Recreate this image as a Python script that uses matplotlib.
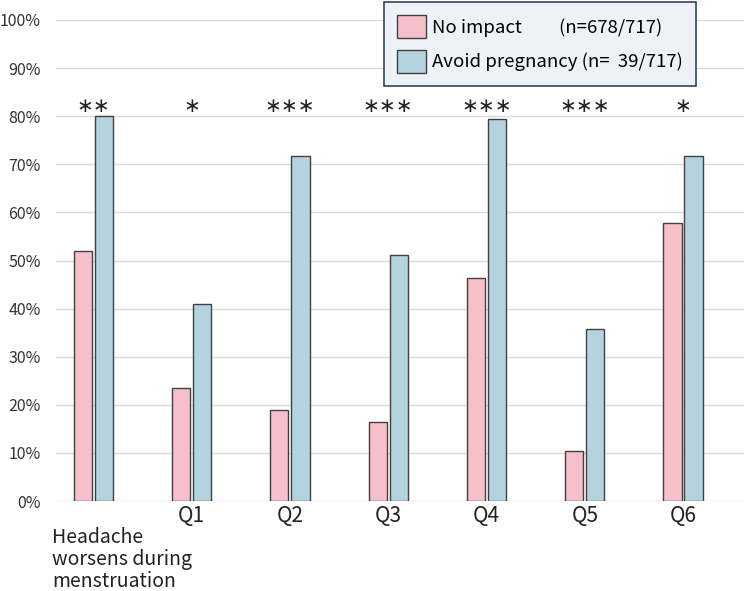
import matplotlib
matplotlib.use("Agg")
import matplotlib.pyplot as plt
import numpy as np

plt.rcParams['font.family'] = ['Noto Sans CJK JP', 'DejaVu Sans']

categories = ["Headache\nworsens during\nmenstruation", "Q1", "Q2", "Q3", "Q4", "Q5", "Q6"]
no_impact = [51.9, 23.4, 19.0, 16.5, 46.3, 10.3, 57.8]
avoid_preg = [80.0, 40.9, 71.7, 51.2, 79.4, 35.8, 71.7]
stars = ["**", "*", "***", "***", "***", "***", "*"]
legend_labels = ["No impact         (n=678/717)", "Avoid pregnancy (n=  39/717)"]

pink = "#f5c0ca"
blue = "#b3d4df"

fig = plt.figure(figsize=(7.44, 5.91), dpi=100)
ax = fig.add_axes([56 / 744, 90 / 591, 1 - 56 / 744, 481 / 591])

x = np.arange(len(categories))
w = 0.185
ax.bar(x - 0.107, no_impact, w, color=pink, edgecolor="#404040", linewidth=1.0,
       label=legend_labels[0], zorder=3)
ax.bar(x + 0.107, avoid_preg, w, color=blue, edgecolor="#404040", linewidth=1.0,
       label=legend_labels[1], zorder=3)

# significance marks (math asterisk sits centred, unlike the plain one)
for i, s in enumerate(stars):
    ax.text(x[i], 82.0, s.replace("*", "\u2217"), ha="center", va="center",
            fontsize=14.5, color="#222222", family="DejaVu Sans")

ax.set_ylim(0, 100)
ax.set_xlim(-0.38, 6.62)
ax.set_yticks(np.arange(0, 101, 10))
ax.set_yticklabels([f"{v}%" for v in range(0, 101, 10)], fontsize=11.5, color="#333333")
ax.yaxis.grid(True, color="#d9d9d9", linewidth=1.0, zorder=0)
ax.tick_params(axis="both", length=0)
ax.tick_params(axis="y", pad=11)
for sp in ax.spines.values():
    sp.set_visible(False)

ax.set_xticks(x[1:])
ax.set_xticklabels(categories[1:], fontsize=15, color="#222222")
ax.tick_params(axis="x", pad=3)
ax.text(-0.42, -5.4, categories[0], ha="left", va="top", fontsize=14,
        color="#222222", linespacing=1.06, transform=ax.transData, clip_on=False)

leg = ax.legend(loc="upper left", bbox_to_anchor=(328 / 688, 1 + 18 / 481),
                fontsize=13.4, frameon=True, fancybox=False, handlelength=1.55,
                handleheight=1.55, handletextpad=0.35, borderpad=0.7,
                labelspacing=0.6, borderaxespad=0)
leg.get_frame().set_facecolor("#eef2f8")
leg.get_frame().set_edgecolor("#34445e")
leg.get_frame().set_linewidth(1.2)
leg.get_frame().set_alpha(1)

fig.savefig("out.png", dpi=100)
